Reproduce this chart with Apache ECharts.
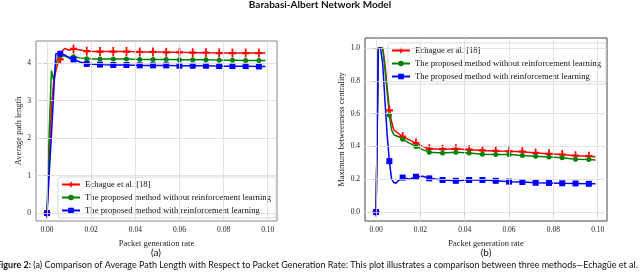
<!DOCTYPE html>
<html>
<head>
<meta charset="utf-8">
<script src="https://cdn.jsdelivr.net/npm/echarts@6/dist/echarts.min.js"></script>
<style>
html,body{margin:0;padding:0;background:#fff;}
#chart{width:640px;height:273px;}
</style>
</head>
<body>
<div id="chart"></div>
<script>
// ---- data ----
const rate = [0, 0.001, 0.002, 0.003, 0.004, 0.005, 0.006, 0.007, 0.008, 0.009, 0.010, 0.012, 0.015, 0.018, 0.021, 0.024, 0.030, 0.036, 0.042, 0.048, 0.054, 0.060, 0.066, 0.072, 0.078, 0.084, 0.090, 0.096, 0.099];

const aplEchague = [0, 1.4, 2.8, 3.5, 3.8, 4.0, 4.1, 4.33, 4.39, 4.37, 4.34, 4.38, 4.35, 4.32, 4.31, 4.31, 4.31, 4.31, 4.30, 4.30, 4.29, 4.29, 4.28, 4.28, 4.27, 4.27, 4.27, 4.27, 4.27];
const aplNoRL = [0, 2.2, 3.8, 3.55, 3.95, 4.15, 4.2, 4.2, 4.19, 4.17, 4.16, 4.17, 4.14, 4.12, 4.11, 4.11, 4.11, 4.11, 4.10, 4.10, 4.10, 4.09, 4.09, 4.09, 4.08, 4.08, 4.07, 4.07, 4.07];
const aplRL = [0, 1.06, 2.1, 3.2, 4.25, 4.26, 4.25, 4.24, 4.22, 4.18, 4.13, 4.1, 4.03, 3.98, 3.97, 3.96, 3.95, 3.95, 3.94, 3.94, 3.94, 3.93, 3.93, 3.93, 3.92, 3.92, 3.92, 3.91, 3.91];

const bcEchague = [0, 1.0, 1.0, 1.0, 0.9, 0.76, 0.62, 0.55, 0.5, 0.49, 0.48, 0.46, 0.44, 0.42, 0.40, 0.385, 0.383, 0.385, 0.38, 0.375, 0.372, 0.37, 0.368, 0.36, 0.355, 0.35, 0.343, 0.34, 0.337];
const bcNoRL = [0, 1.0, 1.0, 1.0, 0.87, 0.73, 0.59, 0.5, 0.47, 0.465, 0.46, 0.444, 0.42, 0.40, 0.38, 0.365, 0.36, 0.365, 0.36, 0.352, 0.35, 0.35, 0.345, 0.34, 0.335, 0.33, 0.322, 0.32, 0.317];
const bcRL = [0, 1.0, 1.0, 0.9, 0.68, 0.47, 0.31, 0.2, 0.18, 0.175, 0.19, 0.21, 0.2, 0.215, 0.218, 0.205, 0.195, 0.19, 0.195, 0.195, 0.19, 0.185, 0.183, 0.178, 0.177, 0.175, 0.174, 0.172, 0.172];

const seriesNames = ['Echague et al. [18]', 'The proposed method without reinforcement learning', 'The proposed method with reinforcement learning'];
const xTicks = [0, 0.02, 0.04, 0.06, 0.08, 0.10];
const aplTicks = [0, 1, 2, 3, 4];
const bcTicks = [0.0, 0.2, 0.4, 0.6, 0.8, 1.0];
const markerStep = 0.006;

// ---- styling helpers ----
const SERIF = '"Liberation Serif", "DejaVu Serif", serif';
const SANS = 'Lato, "Open Sans", sans-serif';
const colors = ['#ff0000', '#008000', '#0000ff'];
const symbols = ['path://M3,0H5V3H8V5H5V8H3V5H0V3H3Z', 'circle', 'rect'];
const symbolSizes = [[7, 9], 5, 6];

function isMarker(x) {
  const k = x / markerStep;
  return Math.abs(k - Math.round(k)) < 1e-6;
}
function mkData(ys) {
  return rate.map((x, i) => ({ value: [x, ys[i]], symbol: isMarker(x) ? undefined : 'none' }));
}
function lineSeries(idx, ys, gi) {
  return {
    name: seriesNames[idx], type: 'line', xAxisIndex: gi, yAxisIndex: gi,
    data: mkData(ys), symbol: symbols[idx], symbolSize: symbolSizes[idx],
    showAllSymbol: true, z: 3,
    lineStyle: { color: colors[idx], width: 1.5 },
    itemStyle: { color: colors[idx] },
    emphasis: { disabled: true }
  };
}
function gridSeries(gi, yt) {
  return {
    type: 'line', xAxisIndex: gi, yAxisIndex: gi, data: [], z: 1, silent: true,
    markLine: {
      silent: true, symbol: ['none', 'none'], label: { show: false }, animation: false,
      lineStyle: { color: '#dadada', width: 0.8, type: 'solid' },
      emphasis: { disabled: true },
      data: xTicks.map(v => ({ xAxis: v })).concat(yt.map(v => ({ yAxis: v })))
    }
  };
}
function xAxisCfg(gi) {
  return {
    type: 'value', gridIndex: gi, min: -0.005, max: 0.1042,
    axisLine: { show: false },
    splitLine: { show: false },
    axisTick: { show: true, length: 3, customValues: xTicks, lineStyle: { color: '#333', width: 0.8 } },
    axisLabel: { customValues: xTicks, margin: 5, fontFamily: SERIF, fontSize: 7.5, color: '#222', formatter: v => v.toFixed(2) },
    name: 'Packet generation rate', nameLocation: 'middle', nameGap: 10,
    nameTextStyle: { fontFamily: SERIF, fontSize: 8.5, color: '#222' }
  };
}
const chart = echarts.init(document.getElementById('chart'), null, { renderer: 'canvas' });
const legendCommon = {
  orient: 'vertical', itemWidth: 18, itemHeight: 7, itemGap: 4,
  textStyle: { fontFamily: SERIF, fontSize: 8.7, color: '#111' },
  borderColor: '#cfcfcf', borderWidth: 0.8, borderRadius: 2,
  backgroundColor: 'rgba(255,255,255,0.85)', padding: [3, 5, 3, 3],
  data: seriesNames, selectedMode: false
};
chart.setOption({
  animation: false,
  backgroundColor: '#fff',
  textStyle: { fontFamily: SERIF },
  grid: [
    { left: 36, right: 363, top: 41, bottom: 52, show: true, borderColor: '#888', borderWidth: 1, backgroundColor: 'transparent' },
    { left: 365, right: 33, top: 38, bottom: 52, show: true, borderColor: '#444', borderWidth: 1, backgroundColor: 'transparent' }
  ],
  xAxis: [xAxisCfg(0), xAxisCfg(1)],
  yAxis: [
    {
      type: 'value', gridIndex: 0, min: -0.21, max: 4.59,
      axisLine: { show: false }, splitLine: { show: false },
      axisTick: { show: true, length: 3, customValues: aplTicks, lineStyle: { color: '#333', width: 0.8 } },
      axisLabel: { customValues: aplTicks, margin: 5, fontFamily: SERIF, fontSize: 7.5, color: '#222', formatter: v => String(Math.round(v)) },
      name: 'Average path length', nameLocation: 'middle', nameGap: 12,
      nameTextStyle: { fontFamily: SERIF, fontSize: 8.5, color: '#222' }
    },
    {
      type: 'value', gridIndex: 1, min: -0.055, max: 1.061,
      axisLine: { show: false }, splitLine: { show: false },
      axisTick: { show: true, length: 3, customValues: bcTicks, lineStyle: { color: '#333', width: 0.8 } },
      axisLabel: { customValues: bcTicks, margin: 5, fontFamily: SERIF, fontSize: 7.5, color: '#222', formatter: v => v.toFixed(1) },
      name: 'Maximum betweenness centrality', nameLocation: 'middle', nameGap: 18,
      nameTextStyle: { fontFamily: SERIF, fontSize: 8.5, color: '#222' }
    }
  ],
  legend: [
    Object.assign({}, legendCommon, { left: 58, top: 177 }),
    Object.assign({}, legendCommon, { left: 388, top: 43 })
  ],
  series: [
    gridSeries(0, aplTicks), gridSeries(1, bcTicks),
    lineSeries(0, aplEchague, 0), lineSeries(1, aplNoRL, 0), lineSeries(2, aplRL, 0),
    lineSeries(0, bcEchague, 1), lineSeries(1, bcNoRL, 1), lineSeries(2, bcRL, 1)
  ],
  graphic: [
    { type: 'text', left: 'center', top: 0, style: { text: 'Barabasi-Albert Network Model', font: 'bold 10px ' + SANS, fill: '#111' } },
    { type: 'text', x: 156, y: 253, style: { text: '(a)', font: '10px ' + SANS, fill: '#111', align: 'center', verticalAlign: 'middle' } },
    { type: 'text', x: 486, y: 253, style: { text: '(b)', font: '10px ' + SANS, fill: '#111', align: 'center', verticalAlign: 'middle' } },
    { type: 'text', x: -4, y: 265, style: {
        text: '{b|Figure 2:} (a) Comparison of Average Path Length with Respect to Packet Generation Rate: This plot illustrates a comparison between three methods—Echagüe et al.',
        font: '9px ' + SANS, fill: '#111', verticalAlign: 'middle',
        rich: { b: { font: 'bold 9px ' + SANS, fill: '#111' } }
      } }
  ]
});
</script>
</body>
</html>
